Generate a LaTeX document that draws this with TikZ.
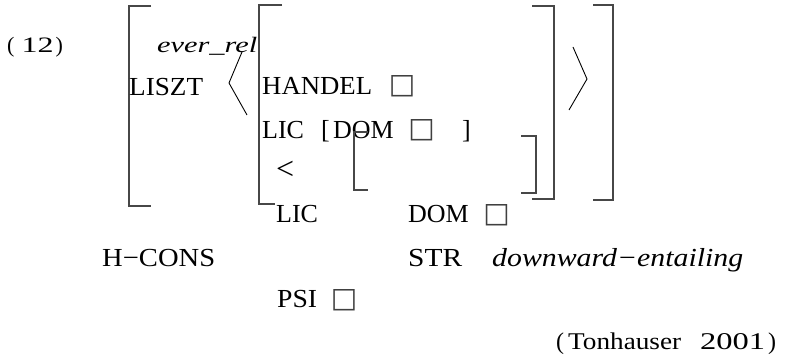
\documentclass[tikz,border=0pt]{standalone}
\usepackage{fontspec}
\usepackage{graphicx}
\setmainfont{Liberation Serif}
\newfontfamily\symfont{DejaVu Sans}
% squeeze or stretch a piece of text to a given width, height unchanged
\newcommand\hfit[2]{\resizebox{#1}{\height}{#2}}
\begin{document}
\begin{tikzpicture}[x=1pt,y=-1pt,
  lbl/.style={anchor=base west, inner sep=0pt, font=\fontsize{26}{30}\selectfont},
  ilbl/.style={anchor=base west, inner sep=0pt, font=\fontsize{26}{30}\selectfont\itshape},
  small/.style={anchor=base west, inner sep=0pt, font=\fontsize{22}{26}\selectfont},
  ismall/.style={anchor=base west, inner sep=0pt, font=\fontsize{22}{26}\selectfont\itshape},
  sq/.style={anchor=center, inner sep=0pt, text=black!75, font=\symfont\fontsize{28}{32}\selectfont},
  brk/.style={line width=1.3pt, draw=black!72},
  ang/.style={line width=0.9pt, draw=black}]
\useasboundingbox (0,0) rectangle (788,358);

% example number and type
\node[small, font=\fontsize{22}{26}\selectfont] (exnum) at (7,53) {(\hspace{7pt}\hfit{32pt}{12}\hspace{2pt})};
\node[ismall] (ever) at (157,53) {\hfit{100pt}{ever\_rel}};

% outer AVM bracket
\draw[brk] (151,6) -- (129,6) -- (129,206) -- (151,206);
\draw[brk] (593,5) -- (613,5) -- (613,200) -- (593,200);

% LISZT list
\node[lbl] (liszt) at (129,96) {\hfit{74pt}{LISZT}};
\draw[ang] (242,52) -- (229,83) -- (247,115);
\draw[ang] (573,47) -- (587,79) -- (569,110);

% inner AVM bracket
\draw[brk] (282,5) -- (259,5) -- (259,204) -- (275,204);
\draw[brk] (532,6) -- (554,6) -- (554,199) -- (532,199);

\node[lbl] (handel) at (262,95) {\hfit{110pt}{HANDEL}};
\node[sq] (tagA) at (402,86.5) {□};

\node[lbl] (lic1) at (262,139) {LIC};
\node[lbl] (lbr) at (321,139) {[};
\node[lbl] (dom1) at (333,139) {DOM};
\node[sq] (tagB) at (421.5,130) {□};
\node[lbl] (rbr) at (462,139) {]};

\node[lbl, font=\fontsize{32}{36}\selectfont] (lt) at (276,180) {<};

% small embedded bracket
\draw[brk] (368,132) -- (354,132) -- (354,190) -- (368,190);
\draw[brk] (521,136) -- (536,136) -- (536,193) -- (521,193);

\node[lbl] (lic2) at (276,223) {LIC};
\node[lbl] (dom2) at (408,223) {DOM};
\node[sq] (tagC) at (496.5,215.5) {□};

\node[lbl] (hcons) at (102,267) {\hfit{113pt}{H−CONS}};
\node[lbl] (str) at (408,267) {\hfit{54pt}{STR}};
\node[ilbl] (dent) at (492,267) {\hfit{251pt}{downward−entailing}};

\node[lbl] (psi) at (277,308) {\hfit{40pt}{PSI}};
\node[sq] (tagD) at (344,300) {□};

% source
\node[small, font=\fontsize{24}{28}\selectfont] (cite) at (556,350)
  {(\hspace{4pt}\hfit{113pt}{Tonhauser}\hspace{19pt}\hfit{65pt}{2001}\hspace{3pt})};
\end{tikzpicture}
\end{document}
